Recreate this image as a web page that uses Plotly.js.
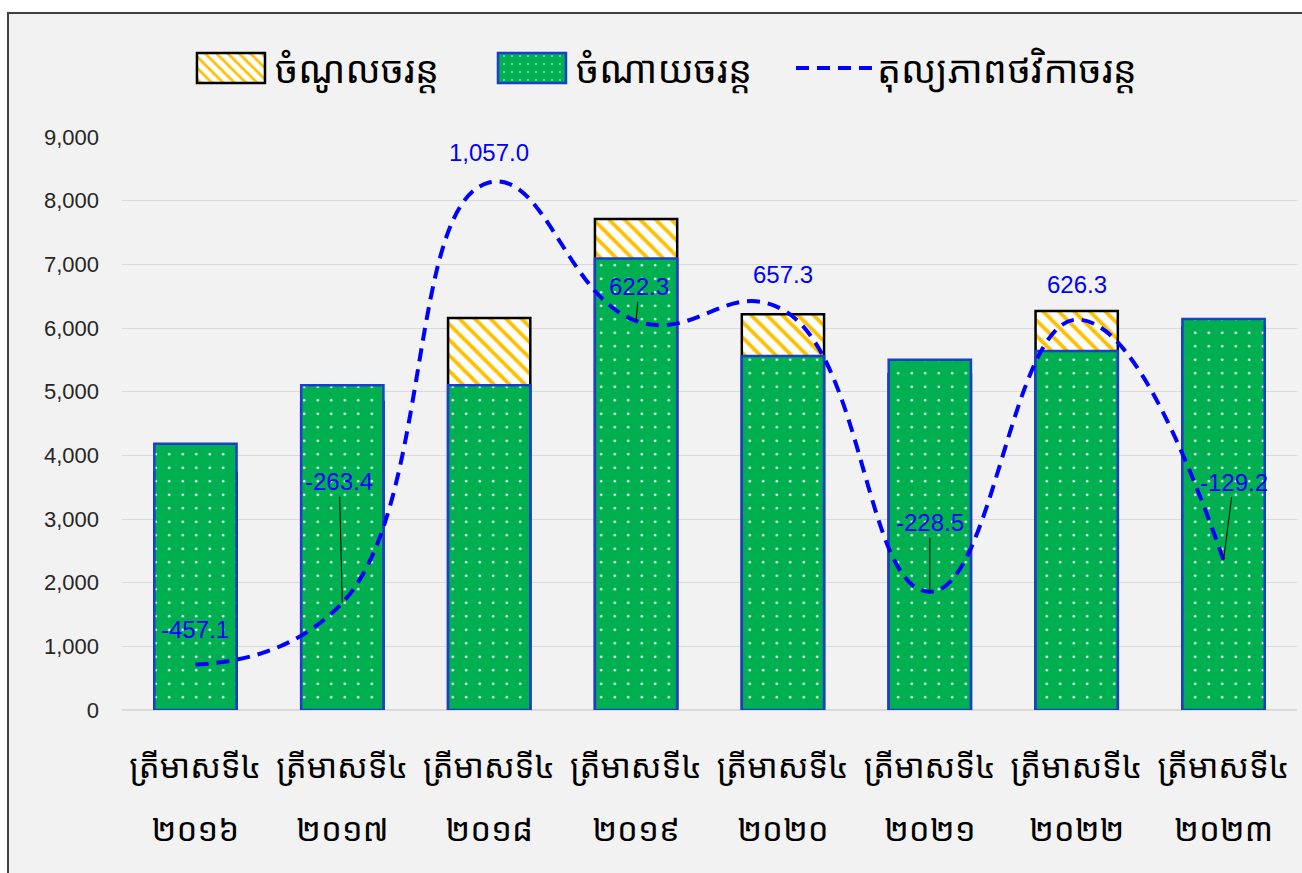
<!DOCTYPE html>
<html>
<head>
<meta charset="utf-8">
<script src="https://cdn.plot.ly/plotly-3.0.1.min.js"></script>
<style>
  html, body { margin:0; padding:0; background:#ffffff; width:1302px; height:873px; overflow:hidden; }
  #frame { position:absolute; left:7px; top:12px; width:1300px; height:870px; background:#f2f2f2;
           border-left:2px solid #404040; border-top:2px solid #404040; box-sizing:border-box; }
  #chart { position:absolute; left:7px; top:12px; width:1295px; height:861px; }
</style>
</head>
<body>
<div id="frame"></div>
<div id="chart"></div>
<script>
// ---- data ----
const quarterLabel = "ត្រីមាសទី៤";
const years = ["២០១៦", "២០១៧", "២០១៨", "២០១៩", "២០២០", "២០២១", "២០២២", "២០២៣"];
const revenue = [3723, 4837, 6157, 7712, 6217, 5272, 6266, 6011];      // ចំណូលចរន្ត
const expenditure = [4180, 5100, 5100, 7090, 5560, 5500, 5640, 6140]; // ចំណាយចរន្ត
const balance = [-457.1, -263.4, 1057.0, 622.3, 657.3, -228.5, 626.3, -129.2]; // តុល្យភាពថវិកាចរន្ត
const seriesNames = ["ចំណូលចរន្ត", "ចំណាយចរន្ត", "តុល្យភាពថវិកាចរន្ត"];
const yTicks = [0, 1000, 2000, 3000, 4000, 5000, 6000, 7000, 8000, 9000];

// ---- label placement (layout only) ----
const labelAx = [0, -3, 0, 3, 0, 0, 0, 10];
const labelAy = [-35, -121, -30, -34, -35, -69, -35, -78];
const labelArrow = [false, true, false, true, false, true, false, true];

const cats = years.map((y, i) => i);
const quarterText = years.map(() => quarterLabel);

const khFont = "'Khmer OS System', 'Noto Sans Khmer', 'Noto Serif Khmer', 'Khmer OS', 'DejaVu Sans', sans-serif";
const numFont = "'Liberation Sans', Arial, sans-serif";

function fmt(v) {
  return v.toLocaleString('en-US', {minimumFractionDigits: 1, maximumFractionDigits: 1});
}

const traces = [
  {
    type: 'bar', name: seriesNames[0], x: cats, y: revenue,
    marker: { color: '#ffffff', opacity: 1,
      pattern: { shape: '\\', fgcolor: '#ffc000', bgcolor: '#ffffff', size: 11, solidity: 0.35, fillmode: 'replace' },
      line: { color: '#000000', width: 2.5 } },
    hoverinfo: 'skip'
  },
  {
    type: 'bar', name: seriesNames[1], x: cats, y: expenditure,
    marker: { color: '#00b050', opacity: 1,
      pattern: { shape: '.', fgcolor: '#ffffff', bgcolor: '#00b050', size: 13.5, solidity: 0.03, fillmode: 'replace' },
      line: { color: '#1a3fcc', width: 2.5 } },
    hoverinfo: 'skip'
  },
  {
    type: 'scatter', mode: 'lines', name: seriesNames[2], x: cats, y: balance, xaxis: 'x2', yaxis: 'y2',
    line: { color: '#0000ff', width: 4, dash: '13px,8px', shape: 'spline', smoothing: 1.3 },
    hoverinfo: 'skip'
  }
];

const annotations = balance.map((v, i) => ({
  x: cats[i], y: v, xref: 'x2', yref: 'y2',
  text: fmt(v),
  showarrow: labelArrow[i],
  arrowhead: 0, arrowwidth: 1, arrowcolor: '#000000',
  ax: labelArrow[i] ? labelAx[i] : 0, ay: labelArrow[i] ? labelAy[i] : 0,
  xshift: labelArrow[i] ? 0 : labelAx[i],
  yshift: labelArrow[i] ? 0 : -labelAy[i],
  font: { family: numFont, size: 24, color: '#0000ff' },
  standoff: 0
}));

const layout = {
  width: 1295, height: 861,
  margin: { l: 115, r: 5, t: 125, b: 163 },
  paper_bgcolor: 'rgba(0,0,0,0)',
  plot_bgcolor: 'rgba(0,0,0,0)',
  barmode: 'overlay',
  bargap: 0.44,
  showlegend: true,
  legend: {
    orientation: 'h', x: 0.057, xanchor: 'left', y: 1.12, yanchor: 'middle',
    font: { family: khFont, size: 38, color: '#000000' },
    itemwidth: 76, entrywidth: 210, entrywidthmode: 'pixels',
    tracegroupgap: 0, bgcolor: 'rgba(0,0,0,0)'
  },
  xaxis: {
    tickmode: 'array', tickvals: cats, ticktext: quarterText,
    range: [-0.5, cats.length - 0.5],
    showgrid: false, zeroline: false, showline: false, ticks: '',
    tickfont: { family: khFont, size: 33, color: '#000000' },
    ticklabelstandoff: 34
  },
  xaxis2: {
    overlaying: 'x', side: 'bottom', anchor: 'y',
    tickmode: 'array', tickvals: cats, ticktext: years,
    range: [-0.5, cats.length - 0.5],
    showgrid: false, zeroline: false, showline: false, ticks: '',
    tickfont: { family: khFont, size: 33, color: '#000000' },
    ticklabelstandoff: 97
  },
  yaxis: {
    range: [0, 9000], tickmode: 'array', tickvals: yTicks,
    tickformat: ',d', showgrid: true, gridcolor: '#d9d9d9', gridwidth: 1,
    zeroline: true, zerolinecolor: '#d9d9d9', zerolinewidth: 2, showline: false, ticks: '',
    tickfont: { family: numFont, size: 22, color: '#262626' },
    ticklabelstandoff: 22
  },
  yaxis2: {
    overlaying: 'y', side: 'right', anchor: 'x2', range: [-600, 1200], visible: false,
    showgrid: false, zeroline: false
  },
  annotations: annotations
};

function fixLegend() {
  const gd = document.getElementById('chart');
  gd.querySelectorAll('g.legendpoints path').forEach(p => {
    const d = p.getAttribute('d') || '';
    if (/^M\s*6[ ,]6\s*H/.test(d) || p.classList.contains('legendbar')) {
      p.setAttribute('d', 'M34,15H-34V-15H34Z');
      p.setAttribute('transform', 'translate(42,0)');
    }
  });
  // let the last legend entry's text show in full
  gd.querySelectorAll('g.legend [clip-path]').forEach(el => el.removeAttribute('clip-path'));
  gd.querySelectorAll('g.legend').forEach(el => el.removeAttribute('clip-path'));
}

Plotly.newPlot('chart', traces, layout, { displayModeBar: false, staticPlot: true }).then(() => {
  fixLegend();
  setTimeout(fixLegend, 50);
});
</script>
</body>
</html>
